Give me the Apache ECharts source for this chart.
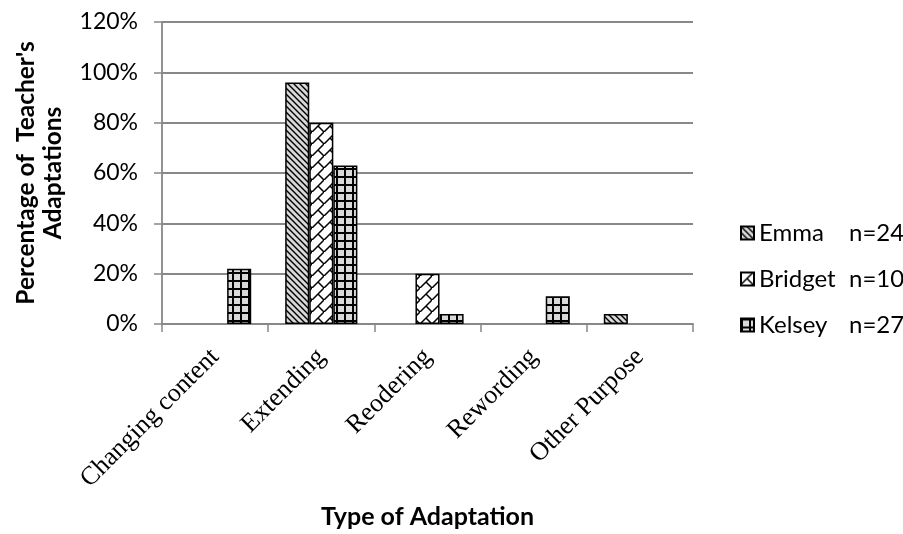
<!DOCTYPE html>
<html>
<head>
<meta charset="utf-8">
<script src="https://cdn.jsdelivr.net/npm/echarts@6/dist/echarts.min.js"></script>
<style>
  html, body { margin: 0; padding: 0; background: #fff; }
  #chart { width: 903px; height: 534px; }
</style>
</head>
<body>
<div id="chart"></div>
<script>
// ---- Data ----
const categories = ['Changing content', 'Extending', 'Reodering', 'Rewording', 'Other Purpose'];
const emma    = [0, 96, 0, 0, 4];
const bridget = [0, 80, 20, 0, 0];
const kelsey  = [22, 63, 4, 11, 0];
const seriesNames = ['Emma', 'Bridget', 'Kelsey'];
const sampleSizes = [24, 10, 27];
const yMin = 0, yMax = 120, yStep = 20;
const xTitle = 'Type of Adaptation';
const yTitle = "Percentage of  Teacher's\nAdaptations";

// ---- Patterns (fills) ----
function makeTile(size, draw) {
  const c = document.createElement('canvas');
  c.width = size; c.height = size;
  const g = c.getContext('2d');
  draw(g, size);
  return { image: c, repeat: 'repeat' };
}
const emmaFill = makeTile(6, (g, s) => {
  g.fillStyle = '#d9d9d9'; g.fillRect(0, 0, s, s);
  g.strokeStyle = '#000'; g.lineWidth = 1.4;
  g.beginPath();
  g.moveTo(-1, -1); g.lineTo(s + 1, s + 1);
  g.moveTo(-1, s - 1); g.lineTo(1, s + 1);
  g.moveTo(s - 1, -1); g.lineTo(s + 1, 1);
  g.stroke();
});
const bridgetFill = makeTile(12, (g, s) => {
  g.fillStyle = '#ffffff'; g.fillRect(0, 0, s, s);
  g.strokeStyle = '#000'; g.lineWidth = 1.5;
  g.beginPath();
  g.moveTo(0, s); g.lineTo(s, 0);
  g.moveTo(s / 2, s / 2); g.lineTo(s, s);
  g.stroke();
});
const kelseyFill = makeTile(8, (g, s) => {
  g.fillStyle = '#d9d9d9'; g.fillRect(0, 0, s, s);
  g.fillStyle = '#000';
  g.fillRect(0, 0, 2, s);
  g.fillRect(0, 0, s, 2);
});
const fills = [emmaFill, bridgetFill, kelseyFill];
const values = [emma, bridget, kelsey];

const chart = echarts.init(document.getElementById('chart'), null, { renderer: 'canvas' });

const series = seriesNames.map((name, i) => ({
  name: name,
  type: 'bar',
  data: values[i].map(v => (v === 0 ? null : v)),
  barGap: '0%',
  barCategoryGap: '32%',
  itemStyle: { color: fills[i], borderColor: '#000', borderWidth: 1.5 }
}));

const option = {
  animation: false,
  backgroundColor: '#ffffff',
  grid: { left: 162, right: 210, top: 22, bottom: 210, containLabel: false },
  legend: {
    orient: 'vertical',
    left: 735,
    top: 215,
    itemWidth: 13,
    itemHeight: 13,
    itemGap: 20,
    icon: 'rect',
    data: seriesNames,
    formatter: function (name) {
      const i = seriesNames.indexOf(name);
      return '{a|' + name + '}{b|n=' + sampleSizes[i] + '}';
    },
    textStyle: {
      fontFamily: 'Lato', fontSize: 24, lineHeight: 26, color: '#000',
      rich: {
        a: { fontFamily: 'Lato', fontSize: 24, lineHeight: 26, color: '#000', width: 90 },
        b: { fontFamily: 'Lato', fontSize: 24, lineHeight: 26, color: '#000' }
      }
    }
  },
  xAxis: {
    type: 'category',
    data: categories,
    name: xTitle,
    nameLocation: 'middle',
    nameGap: 180,
    nameTextStyle: { fontFamily: 'Lato', fontWeight: 'bold', fontSize: 25, color: '#000' },
    axisLine: { show: true, lineStyle: { color: '#888', width: 1.8 } },
    axisTick: { show: true, length: 8, lineStyle: { color: '#888', width: 1.5 } },
    axisLabel: {
      rotate: 45, interval: 0, margin: 29,
      fontFamily: 'Liberation Serif', fontSize: 26, color: '#000'
    },
    splitLine: { show: false }
  },
  yAxis: {
    type: 'value',
    min: yMin, max: yMax, interval: yStep,
    name: yTitle,
    nameLocation: 'middle',
    nameRotate: 90,
    nameGap: 95,
    nameTextStyle: { fontFamily: 'Lato', fontWeight: 'bold', fontSize: 24.5, lineHeight: 27, color: '#000', align: 'center' },
    axisLine: { show: true, lineStyle: { color: '#888', width: 1.8 } },
    axisTick: { show: true, length: 8, lineStyle: { color: '#888', width: 1.5 } },
    axisLabel: {
      formatter: '{value}%', margin: 24,
      fontFamily: 'Lato', fontSize: 23, color: '#000'
    },
    splitLine: { show: true, lineStyle: { color: '#888', width: 1.8 } }
  },
  series: series
};
chart.setOption(option);
</script>
</body>
</html>
